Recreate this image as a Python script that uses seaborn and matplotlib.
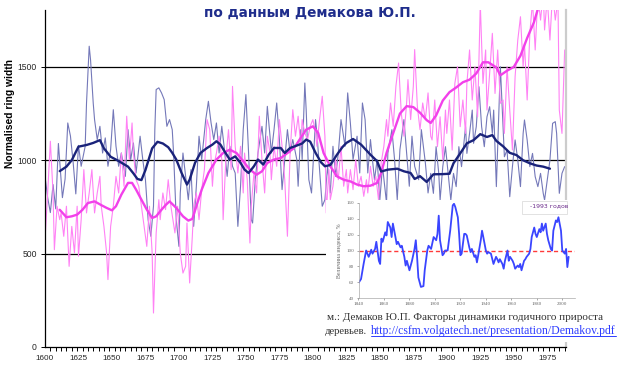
import matplotlib
matplotlib.use("Agg")
import matplotlib.pyplot as plt
import seaborn as sns
from matplotlib.patches import Rectangle
from matplotlib.lines import Line2D

sns.set_style("white")
plt.rcParams["font.family"] = ["DejaVu Sans"]

W, H = 620, 371

# ---- annual ring-width index, dark-blue chronology ----
blue_years = [1600, 1602, 1604, 1606, 1608, 1610, 1613, 1615, 1617, 1619, 1621, 1623, 1625, 1627,
              1630, 1631, 1633, 1634, 1636, 1637, 1639, 1641, 1643, 1645, 1647, 1649, 1651, 1653,
              1655, 1657, 1660, 1662, 1664, 1666, 1668, 1671, 1673, 1675, 1677, 1679, 1681, 1682,
              1683, 1685, 1687, 1689, 1691, 1693, 1695, 1696, 1698, 1700, 1701, 1703, 1705, 1707,
              1709, 1711, 1713, 1715, 1717, 1720, 1722, 1724, 1726, 1728, 1730, 1732, 1734, 1736,
              1738, 1740, 1742, 1744, 1746, 1748, 1750, 1752, 1754, 1755, 1757, 1759, 1762, 1764,
              1766, 1768, 1769, 1771, 1773, 1775, 1777, 1779, 1781, 1783, 1785, 1788, 1789, 1791,
              1792, 1794, 1795, 1797, 1799, 1802, 1803, 1805, 1807, 1809, 1811, 1813, 1815, 1817,
              1819, 1821, 1824, 1826, 1828, 1830, 1833, 1835, 1837, 1839, 1841, 1843, 1846, 1848,
              1850, 1852, 1855, 1856, 1859, 1861, 1863, 1865, 1868, 1870, 1872, 1874, 1876, 1879,
              1881, 1884, 1886, 1888, 1890, 1892, 1894, 1895, 1897, 1899, 1901, 1903, 1905, 1907,
              1909, 1911, 1914, 1915, 1917, 1919, 1920, 1922, 1924, 1926, 1928, 1930, 1932, 1934,
              1935, 1937, 1939, 1940, 1942, 1943, 1945, 1947, 1949, 1951, 1953, 1955, 1957, 1958,
              1960, 1962, 1964, 1966, 1968, 1970, 1972, 1973, 1975, 1977, 1979, 1981, 1982, 1984,
              1986, 1988]
blue_raw = [914, 800, 720, 870, 740, 1090, 800, 900, 1200, 1130, 990, 820, 1080, 968,
            1075, 1307, 1611, 1539, 1307, 1218, 1111, 1182, 1039, 1120, 968, 1057, 1271, 1075,
            968, 1039, 914, 1164, 1004, 1093, 932, 1129, 1004, 896, 682, 593, 754, 1164,
            1379, 1388, 1361, 1325, 1182, 1218, 1164, 1039, 682, 539, 825, 1039, 914, 789,
            950, 646, 861, 1129, 1004, 1218, 1316, 1200, 1111, 1200, 1039, 1182, 1057, 914,
            1075, 968, 932, 646, 861, 1164, 1352, 1039, 682, 664, 896, 1039, 1182, 1039,
            1289, 1129, 1039, 1164, 1307, 1111, 843, 1004, 1164, 1039, 1111, 1004, 861, 1164,
            1004, 1414, 1271, 896, 825, 1218, 1146, 950, 754, 789, 968, 825, 1075, 914,
            1039, 1218, 1075, 1361, 1200, 1004, 1129, 932, 1307, 1218, 932, 1111, 896, 1004,
            789, 968, 771, 1039, 1164, 1004, 789, 1057, 1218, 1039, 861, 1129, 968, 896,
            1164, 986, 825, 930, 823, 1073, 930, 787, 966, 1073, 930, 787, 930, 859,
            1073, 966, 1180, 1037, 1144, 1269, 1091, 1180, 1394, 1180, 1073, 1233, 1287, 1144,
            1269, 859, 1287, 1501, 1180, 1019, 1055, 805, 966, 1109, 1001, 859, 1144, 1216,
            1109, 966, 1037, 912, 859, 930, 823, 787, 894, 1001, 1198, 1207, 1144, 823,
            930, 966]

# ---- annual ring-width index, magenta chronology ----
pink_years = [1600, 1602, 1604, 1606, 1607, 1609, 1611, 1612, 1614, 1616, 1618, 1620, 1622, 1624,
              1625, 1627, 1629, 1631, 1633, 1635, 1637, 1639, 1641, 1642, 1644, 1646, 1647, 1649,
              1651, 1653, 1655, 1657, 1659, 1661, 1663, 1665, 1666, 1668, 1670, 1672, 1674, 1676,
              1678, 1680, 1681, 1683, 1685, 1686, 1688, 1690, 1692, 1694, 1697, 1699, 1701, 1703,
              1705, 1706, 1708, 1710, 1711, 1713, 1715, 1717, 1719, 1721, 1723, 1725, 1726, 1728,
              1730, 1732, 1733, 1735, 1737, 1739, 1740, 1742, 1744, 1746, 1748, 1749, 1751, 1753,
              1754, 1756, 1758, 1760, 1762, 1764, 1766, 1768, 1769, 1771, 1773, 1775, 1777, 1779,
              1781, 1783, 1785, 1787, 1789, 1791, 1792, 1794, 1796, 1798, 1800, 1802, 1803, 1805,
              1807, 1809, 1810, 1812, 1813, 1815, 1817, 1819, 1821, 1823, 1825, 1826, 1828, 1830,
              1832, 1834, 1836, 1838, 1840, 1841, 1843, 1845, 1847, 1849, 1851, 1853, 1855, 1856,
              1858, 1860, 1862, 1864, 1866, 1868, 1870, 1871, 1873, 1875, 1876, 1878, 1880, 1882,
              1884, 1886, 1888, 1889, 1891, 1893, 1895, 1897, 1899, 1900, 1902, 1904, 1906, 1908,
              1910, 1912, 1914, 1915, 1917, 1919, 1921, 1923, 1925, 1927, 1929, 1930, 1932, 1934,
              1936, 1938, 1940, 1942, 1943, 1945, 1947, 1949, 1951, 1953, 1955, 1957, 1958, 1960,
              1962, 1964, 1966, 1968, 1970, 1972, 1973, 1975, 1977, 1979, 1981, 1983, 1984, 1986,
              1988]
pink_raw = [575, 825, 1102, 825, 521, 754, 682, 718, 593, 754, 432, 646, 504, 754,
            486, 682, 950, 718, 825, 950, 718, 825, 914, 754, 646, 504, 361, 646,
            754, 914, 825, 1039, 861, 1236, 1004, 1200, 1039, 896, 861, 754, 646, 539,
            754, 504, 182, 611, 789, 682, 825, 736, 896, 754, 611, 754, 504, 396,
            432, 664, 343, 593, 754, 825, 682, 843, 950, 1218, 1164, 861, 968, 1039,
            1129, 1004, 682, 1004, 1164, 950, 1396, 1075, 932, 1075, 825, 1039, 896, 557,
            754, 932, 825, 1236, 1004, 825, 1129, 1039, 896, 1075, 968, 1218, 1075, 896,
            593, 1039, 1271, 1129, 1236, 1075, 1218, 1146, 1111, 1182, 1218, 1146, 1075, 1218,
            1343, 1129, 718, 950, 789, 861, 1004, 896, 1075, 861, 950, 825, 950, 843,
            1004, 861, 914, 807, 896, 825, 968, 861, 914, 789, 986, 1075, 1218, 1129,
            1307, 1182, 1396, 1521, 1254, 1129, 1307, 1432, 1218, 1396, 1593, 1289, 1164, 1307,
            1218, 1361, 1129, 1109, 1323, 1073, 1233, 1001, 1269, 1144, 1323, 1055, 1412, 1501,
            1180, 1323, 1144, 1412, 1591, 1323, 1501, 1233, 1840, 1412, 1591, 1269, 1466, 1680,
            1358, 1591, 1305, 1323, 1144, 1501, 1269, 1055, 1448, 1644, 1769, 1501, 1626, 1323,
            1680, 1850, 1591, 1880, 1751, 1900, 1698, 1870, 1644, 1900, 1751, 1860, 1269, 1144,
            1591]

# ---- smoothed curves ----
navy_years = [1611, 1616, 1620, 1625, 1631, 1636, 1641, 1644, 1649, 1654, 1658, 1662, 1666, 1669,
              1672, 1675, 1680, 1684, 1688, 1692, 1695, 1698, 1702, 1706, 1708, 1712, 1716, 1721,
              1725, 1728, 1731, 1734, 1738, 1742, 1746, 1749, 1752, 1756, 1759, 1763, 1767, 1771,
              1776, 1779, 1783, 1788, 1792, 1795, 1798, 1802, 1806, 1809, 1813, 1818, 1822, 1825,
              1830, 1836, 1843, 1848, 1851, 1856, 1863, 1868, 1873, 1876, 1880, 1885, 1890, 1897,
              1902, 1905, 1910, 1915, 1920, 1925, 1930, 1934, 1937, 1942, 1947, 1952, 1957, 1962,
              1967, 1972, 1977]
navy_smooth = [942, 966, 1001, 1073, 1082, 1093, 1108, 1064, 1019, 1000, 983, 966, 930, 900,
               894, 948, 1064, 1099, 1090, 1070, 1040, 1004, 932, 870, 896, 986, 1039, 1066,
               1084, 1102, 1084, 1048, 1004, 1021, 986, 950, 932, 968, 1004, 977, 1030, 1066,
               1066, 1039, 1066, 1079, 1090, 1111, 1100, 1040, 990, 968, 975, 1030, 1070, 1093,
               1114, 1084, 1030, 995, 940, 950, 955, 941, 932, 900, 915, 884, 925, 926,
               928, 984, 1037, 1091, 1108, 1140, 1125, 1135, 1104, 1075, 1040, 1028, 1000, 984,
               972, 966, 955]

magenta_years = [1611, 1616, 1620, 1624, 1628, 1632, 1637, 1642, 1646, 1650, 1653, 1657, 1662, 1665,
                 1668, 1672, 1676, 1680, 1683, 1686, 1690, 1693, 1698, 1703, 1707, 1710, 1713, 1717,
                 1722, 1728, 1733, 1738, 1743, 1748, 1753, 1758, 1762, 1766, 1771, 1776, 1781, 1786,
                 1790, 1795, 1800, 1804, 1808, 1813, 1818, 1823, 1828, 1833, 1838, 1843, 1848, 1851,
                 1855, 1860, 1865, 1870, 1875, 1880, 1885, 1888, 1892, 1897, 1902, 1907, 1912, 1917,
                 1922, 1927, 1931, 1937, 1940, 1945, 1950, 1955, 1960, 1965, 1968]
magenta_smooth = [735, 695, 700, 709, 735, 771, 780, 760, 745, 732, 754, 816, 879, 879,
                  843, 789, 736, 691, 700, 727, 760, 780, 745, 700, 677, 686, 754, 843,
                  932, 1004, 1039, 1057, 1039, 995, 950, 923, 941, 986, 1004, 1012, 1039, 1066,
                  1110, 1164, 1182, 1146, 1039, 968, 914, 896, 887, 870, 861, 864, 879, 932,
                  1039, 1146, 1250, 1290, 1285, 1255, 1215, 1200, 1240, 1320, 1365, 1390, 1418, 1432,
                  1465, 1525, 1525, 1497, 1455, 1480, 1500, 1560, 1655, 1738, 1810]

x_labels = list(range(1600, 1976, 25))
y_labels = [0, 500, 1000, 1500]

# ---- index of annual increment (inset), % ----
idx_years = [1840, 1842, 1844, 1846, 1848, 1849, 1850, 1851, 1853, 1854, 1856, 1857, 1858, 1859,
             1861, 1862, 1863, 1865, 1866, 1867, 1869, 1870, 1871, 1873, 1874, 1876, 1877, 1878,
             1880, 1882, 1884, 1885, 1886, 1887, 1889, 1891, 1892, 1894, 1895, 1897, 1899, 1901,
             1902, 1903, 1904, 1906, 1907, 1908, 1910, 1912, 1914, 1915, 1916, 1918, 1919, 1920,
             1921, 1923, 1924, 1925, 1927, 1928, 1929, 1931, 1932, 1933, 1934, 1936, 1937, 1938,
             1940, 1941, 1942, 1944, 1946, 1948, 1949, 1950, 1951, 1953, 1954, 1955, 1957, 1958,
             1959, 1961, 1962, 1963, 1965, 1966, 1967, 1968, 1970, 1971, 1972, 1974, 1975, 1976,
             1978, 1979, 1980, 1982, 1983, 1984, 1985, 1987, 1988, 1989, 1991, 1992, 1993, 1995,
             1996, 1997, 1999, 2000, 2002, 2003, 2004, 2005]
idx_values = [59, 64, 83, 100, 92, 96, 101, 96, 102, 111, 87, 83, 115, 111,
              123, 119, 136, 129, 117, 134, 117, 108, 111, 104, 106, 92, 81, 87,
              75, 87, 102, 113, 92, 66, 54, 55, 75, 100, 106, 102, 117, 113,
              121, 144, 113, 94, 96, 100, 100, 125, 157, 159, 155, 142, 121, 94,
              96, 121, 121, 119, 104, 98, 102, 92, 94, 85, 94, 113, 125, 117,
              100, 96, 98, 96, 83, 92, 89, 85, 89, 83, 77, 87, 100, 87,
              92, 87, 83, 77, 81, 79, 83, 75, 87, 89, 92, 96, 102, 117,
              129, 121, 117, 127, 123, 134, 125, 134, 121, 113, 102, 100, 125, 138,
              136, 142, 125, 100, 96, 102, 79, 92]
idx_xticks = list(range(1840, 2001, 20))
idx_yticks = list(range(40, 161, 20))

TICKFONT = ["Liberation Sans Narrow", "Liberation Sans", "DejaVu Sans"]
SERIF = ["Liberation Serif", "DejaVu Serif"]


def px_box(x0, y0, x1, y1):
    """Figure-fraction rectangle from pixel corners (origin top-left)."""
    return [x0 / W, 1 - y1 / H, (x1 - x0) / W, (y1 - y0) / H]


fig = plt.figure(figsize=(W / 100, H / 100), dpi=100)
fig.patch.set_facecolor("white")

# ---------------- main chart ----------------
ax = fig.add_axes(px_box(45, 10, 566, 347))
ax.set_facecolor("white")
for v in y_labels[1:]:
    ax.axhline(v, color="black", lw=0.9, zorder=0.5)

sns.lineplot(x=blue_years, y=blue_raw, ax=ax, color="#7478b9", lw=0.8,
             estimator=None, sort=False, zorder=2)
sns.lineplot(x=pink_years, y=pink_raw, ax=ax, color="#ff82f5", lw=0.8,
             estimator=None, sort=False, zorder=2.2)
sns.lineplot(x=magenta_years, y=magenta_smooth, ax=ax, color="#f240ea", lw=1.7,
             estimator=None, sort=False, zorder=3)
sns.lineplot(x=navy_years, y=navy_smooth, ax=ax, color="#1a237a", lw=1.7,
             estimator=None, sort=False, zorder=3.2)

ax.set_xlim(1600, 1989)
ax.set_ylim(0, 1805)
ax.set_xticks(x_labels)
ax.set_xticks(list(range(1600, 1989, 4)), minor=True)
ax.set_yticks(y_labels)
ax.tick_params(axis="x", which="major", bottom=True, length=0, pad=6, labelsize=5.9)
ax.tick_params(axis="x", which="minor", bottom=True, length=3, width=0.7,
               direction="out", color="black")
ax.tick_params(axis="y", which="major", left=True, length=3, width=0.7, pad=3,
               labelsize=6.2, color="black")
for lab in ax.get_xticklabels() + ax.get_yticklabels():
    lab.set_fontfamily(TICKFONT)
ax.set_xlabel("")
ax.set_ylabel("")
ax.spines["top"].set_visible(False)
ax.spines["right"].set_color("#cccccc")
ax.spines["right"].set_linewidth(1.6)
for s in ("left", "bottom"):
    ax.spines[s].set_color("black")
    ax.spines[s].set_linewidth(0.9)

fig.text(10.5 / W, 1 - 113 / H, "Normalised ring width", rotation=90, ha="center",
         va="center", fontsize=7.4, fontweight="bold", color="black",
         family=["Liberation Sans", "DejaVu Sans"])
fig.text(310 / W, 1 - 13 / H, "по данным Демакова Ю.П.", ha="center", va="center",
         fontsize=9.8, fontweight="bold", color="#1f2d8c", family=["DejaVu Sans"])

# ---------------- inset with the increment index ----------------
fig.patches.append(Rectangle((326 / W, 1 - 342 / H), (580 - 326) / W, (342 - 200) / H,
                             transform=fig.transFigure, facecolor="white",
                             edgecolor="none", zorder=2))

ins = fig.add_axes(px_box(358.5, 203, 575, 298))
ins.set_zorder(3)
ins.patch.set_alpha(0)
ins.axhline(100, color="#ff3a3a", lw=1.0, dashes=(3, 2), zorder=1)
sns.lineplot(x=idx_years, y=idx_values, ax=ins, color="#3a45ff", lw=1.3,
             estimator=None, sort=False, zorder=2)
ins.set_xlim(1840, 2010)
ins.set_ylim(40, 160)
ins.set_xticks(idx_xticks)
ins.set_yticks(idx_yticks)
ins.tick_params(axis="both", labelsize=3.6, length=1.5, width=0.4, pad=1.5,
                colors="#666666", bottom=True, left=True)
for lab in ins.get_xticklabels() + ins.get_yticklabels():
    lab.set_fontfamily(SERIF)
ins.set_xlabel("")
ins.set_ylabel("Величина индекса, %", fontsize=4.2, color="#666666", labelpad=3,
               family=SERIF)
ins.spines["top"].set_visible(False)
ins.spines["right"].set_visible(False)
for s in ("left", "bottom"):
    ins.spines[s].set_color("#aaaaaa")
    ins.spines[s].set_linewidth(0.5)

fig.patches.append(Rectangle((522 / W, 1 - 214 / H), (567 - 522) / W, (214 - 201) / H,
                             transform=fig.transFigure, facecolor="white",
                             edgecolor="#dddddd", lw=0.6, zorder=4))
fig.text(549 / W, 1 - 206 / H, "-1993 годов", ha="center", va="center", fontsize=4.4,
         color="#6b2b8b", family=["DejaVu Sans"], zorder=5)

fig.text(327 / W, 1 - 318 / H, "м.: Демаков Ю.П. Факторы динамики годичного прироста",
         ha="left", va="center", fontsize=8.0, color="#333333", family=SERIF, zorder=5)
fig.text(325 / W, 1 - 331 / H, "деревьев.", ha="left", va="center", fontsize=7.7,
         color="#333333", family=SERIF, zorder=5)
link = fig.text(371 / W, 1 - 331 / H, "http://csfm.volgatech.net/presentation/Demakov.pdf",
                ha="left", va="center", fontsize=8.5, color="#2f3dff", family=SERIF, zorder=5)

fig.canvas.draw()
bb = link.get_window_extent().transformed(fig.transFigure.inverted())
fig.lines.append(Line2D([bb.x0, bb.x1], [bb.y0 + 0.002, bb.y0 + 0.002],
                        transform=fig.transFigure, color="#2f3dff", lw=0.7, zorder=5))

fig.savefig("out.png", dpi=100, facecolor="white")
